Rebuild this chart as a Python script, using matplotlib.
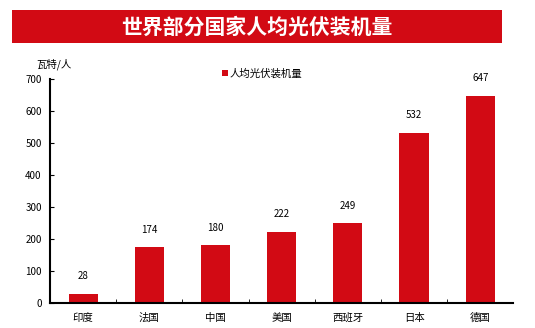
import matplotlib
matplotlib.use("Agg")
import matplotlib.pyplot as plt
from matplotlib.patches import Rectangle

plt.rcParams['font.family'] = ['Noto Sans CJK SC', 'DejaVu Sans']

countries = ["印度", "法国", "中国", "美国", "西班牙", "日本", "德国"]
values = [28, 174, 180, 222, 249, 532, 647]
series_name = "人均光伏装机量"
title = "世界部分国家人均光伏装机量"
unit = "瓦特/人"
RED = "#D20A14"

fig = plt.figure(figsize=(5.35, 3.28), dpi=100)
fig.patches.append(Rectangle((0.0224, 0.869), 0.916, 0.101, transform=fig.transFigure,
                             facecolor=RED, edgecolor="none"))
fig.text(0.48, 0.918, title, color="white", fontsize=15, fontweight="bold",
         ha="center", va="center")

ax = fig.add_axes([0.0935, 0.076, 0.866, 0.683])
x = range(len(countries))
bars = ax.bar(x, values, width=0.44, color=RED, label=series_name)
for xi, v in zip(x, values):
    ax.text(xi, v + 40, str(v), ha="center", va="bottom", fontsize=7)

ax.set_xlim(-0.5, len(countries) - 0.5)
ax.set_ylim(0, 700)
ax.set_yticks(range(0, 701, 100))
ax.set_xticks(list(x))
ax.set_xticklabels(countries, fontsize=7.5)
ax.tick_params(axis="x", length=0, pad=7)
ax.tick_params(axis="y", direction="in", length=3, labelsize=7, pad=6)
ax.set_xticks([i + 0.5 for i in range(len(countries) - 1)], minor=True)
ax.tick_params(axis="x", which="minor", direction="in", length=3)
for s in ["top", "right"]:
    ax.spines[s].set_visible(False)
for s in ["left", "bottom"]:
    ax.spines[s].set_linewidth(1.5)

fig.text(0.067, 0.787, unit, fontsize=7.5, ha="left", va="bottom")
ax.legend(loc="upper left", bbox_to_anchor=(0.35, 1.09), frameon=False, fontsize=7.5,
          handlelength=0.6, handleheight=0.6, handletextpad=0.2)

fig.savefig("out.png", dpi=100)
